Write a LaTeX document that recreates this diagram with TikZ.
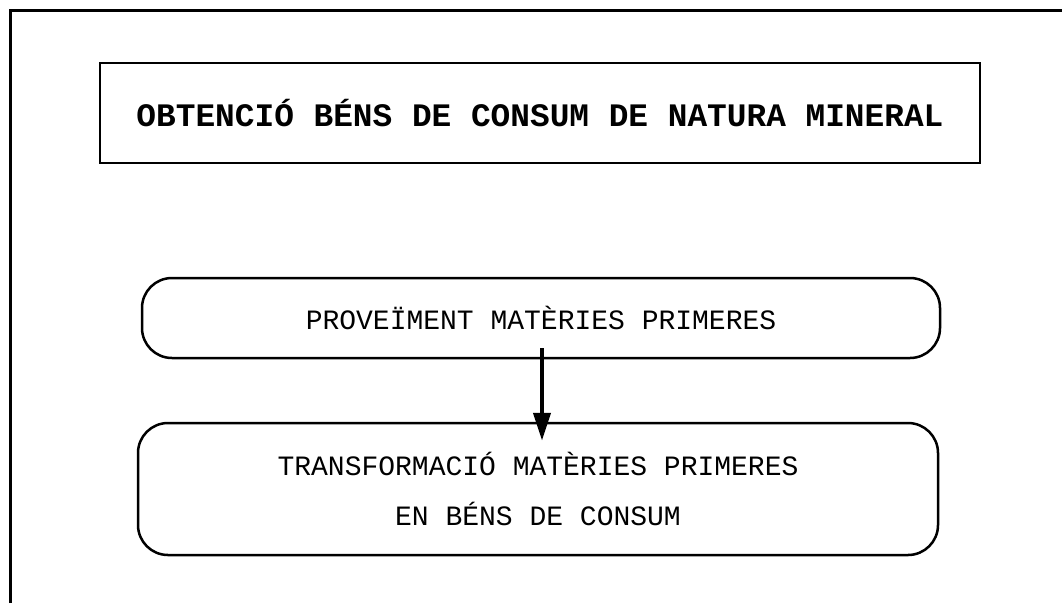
\documentclass[tikz,border=0pt]{standalone}
\usepackage{fontspec}
\setmonofont{Liberation Mono}
\usetikzlibrary{arrows.meta}

\begin{document}
\begin{tikzpicture}[x=1pt,y=-1pt,
		frame/.style={line width=3pt},
		titlebox/.style={rectangle,draw,line width=2.5pt,minimum width=880pt,minimum height=100pt,
			font=\ttfamily\bfseries\fontsize{32.8}{40}\selectfont},
		stagebox/.style={rectangle,rounded corners=30pt,draw,line width=2.5pt,align=center,
			font=\ttfamily\fontsize{28}{50}\selectfont},
		flow/.style={line width=4pt,-{Triangle[length=28pt,width=17pt]}}]
		\useasboundingbox (0,0) rectangle (1062,603);
		% open frame, top and left only
		\draw[frame] (10,603) -- (10,10) -- (1062,10);
		\node[titlebox](titel) at (540,113){OBTENCIÓ BÉNS DE CONSUM DE NATURA MINERAL};
		\node[stagebox,minimum width=798pt,minimum height=80pt](prov) at (541,318)
			{PROVEÏMENT MATÈRIES PRIMERES};
		\node[stagebox,minimum width=800pt,minimum height=132pt](trans) at (538,489)
			{TRANSFORMACIÓ MATÈRIES PRIMERES\\EN BÉNS DE CONSUM};
		\draw[flow] ([xshift=1pt,yshift=11pt]prov.south) -- ([xshift=4pt,yshift=-19pt]trans.north);
	\end{tikzpicture}
\end{document}
